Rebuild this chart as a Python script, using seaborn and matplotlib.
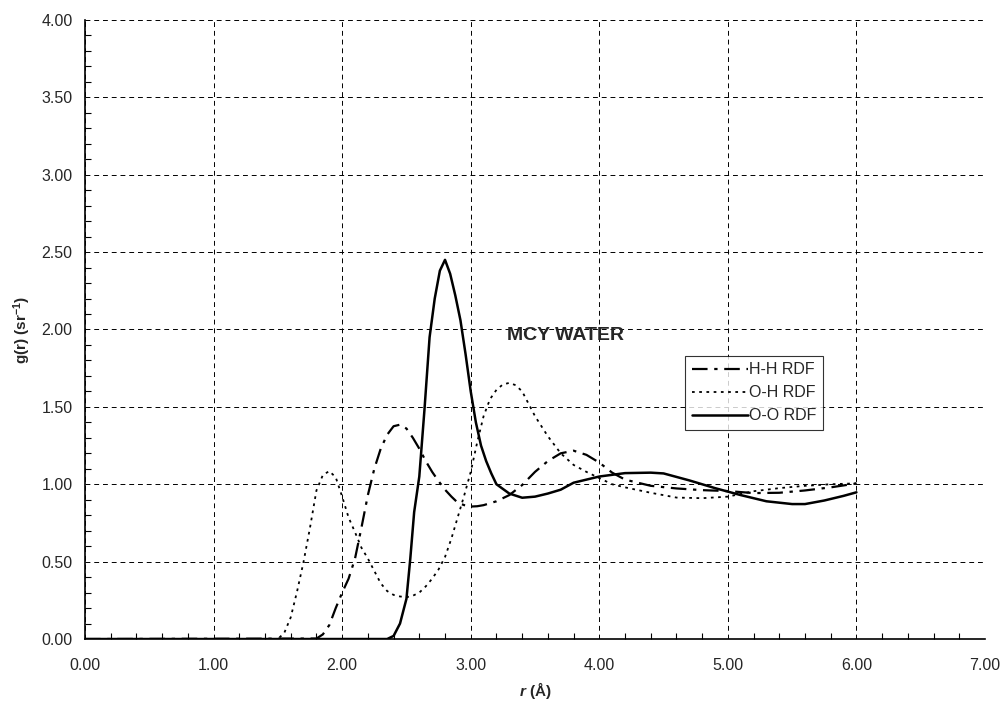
import matplotlib
matplotlib.use("Agg")
import matplotlib.pyplot as plt
from matplotlib.ticker import MultipleLocator, FormatStrFormatter
import seaborn as sns

# H-H radial distribution
r_hh = [0.00, 1.80, 1.85, 1.90, 1.95, 2.00, 2.05, 2.10, 2.15, 2.20, 2.25, 2.30, 2.35,
        2.40, 2.45, 2.50, 2.55, 2.60, 2.65, 2.70, 2.75, 2.80, 2.85, 2.90, 2.95, 3.00,
        3.05, 3.10, 3.20, 3.30, 3.40, 3.50, 3.60, 3.70, 3.80, 3.90, 4.00, 4.10, 4.20,
        4.40, 4.60, 4.80, 5.00, 5.20, 5.40, 5.60, 5.80, 6.00]
g_hh = [0.00, 0.003, 0.03, 0.09, 0.20, 0.30, 0.39, 0.52, 0.72, 0.93, 1.10, 1.23, 1.32,
        1.375, 1.385, 1.36, 1.30, 1.23, 1.15, 1.08, 1.02, 0.965, 0.92, 0.88, 0.865, 0.856,
        0.858, 0.865, 0.89, 0.93, 0.995, 1.08, 1.15, 1.20, 1.217, 1.19, 1.14, 1.075, 1.03,
        0.99, 0.973, 0.962, 0.956, 0.943, 0.945, 0.96, 0.98, 1.005]

# O-H radial distribution
r_oh = [0.00, 1.50, 1.55, 1.60, 1.65, 1.70, 1.75, 1.80, 1.85, 1.90, 1.95, 2.00, 2.05,
        2.10, 2.15, 2.20, 2.25, 2.30, 2.35, 2.40, 2.45, 2.50, 2.55, 2.60, 2.65, 2.70,
        2.75, 2.80, 2.85, 2.90, 2.95, 3.00, 3.05, 3.10, 3.15, 3.20, 3.25, 3.30, 3.35,
        3.40, 3.45, 3.50, 3.60, 3.70, 3.80, 3.90, 4.00, 4.10, 4.20, 4.40, 4.60, 4.80,
        5.00, 5.20, 5.40, 5.60, 5.80, 6.00]
g_oh = [0.00, 0.00, 0.04, 0.14, 0.31, 0.50, 0.72, 0.96, 1.06, 1.085, 1.045, 0.92, 0.785,
        0.69, 0.59, 0.52, 0.44, 0.36, 0.31, 0.285, 0.275, 0.27, 0.28, 0.30, 0.34, 0.39,
        0.45, 0.53, 0.65, 0.79, 0.93, 1.08, 1.27, 1.44, 1.55, 1.61, 1.645, 1.655, 1.64,
        1.60, 1.52, 1.44, 1.31, 1.20, 1.125, 1.08, 1.04, 1.00, 0.98, 0.945, 0.914, 0.91,
        0.92, 0.955, 0.975, 0.99, 1.00, 1.006]

# O-O radial distribution
r_oo = [0.00, 2.35, 2.40, 2.45, 2.50, 2.53, 2.56, 2.60, 2.64, 2.68, 2.72, 2.76, 2.80,
        2.84, 2.88, 2.92, 2.96, 3.00, 3.04, 3.08, 3.12, 3.16, 3.20, 3.30, 3.40, 3.50,
        3.60, 3.70, 3.80, 3.90, 4.00, 4.20, 4.40, 4.50, 4.70, 4.90, 5.10, 5.30, 5.50,
        5.60, 5.75, 5.90, 6.00]
g_oo = [0.00, 0.00, 0.02, 0.10, 0.26, 0.52, 0.82, 1.05, 1.48, 1.95, 2.20, 2.38, 2.45,
        2.36, 2.22, 2.06, 1.84, 1.60, 1.40, 1.25, 1.15, 1.07, 1.00, 0.94, 0.913, 0.92,
        0.94, 0.965, 1.01, 1.03, 1.05, 1.072, 1.075, 1.07, 1.025, 0.975, 0.93, 0.89, 0.872,
        0.872, 0.895, 0.925, 0.948]

sns.set_style("white")
plt.rcParams["font.family"] = ["Liberation Sans", "DejaVu Sans"]
plt.rcParams["mathtext.fontset"] = "custom"
plt.rcParams["mathtext.rm"] = "Liberation Sans:bold"
plt.rcParams["mathtext.it"] = "Liberation Sans:italic:bold"
plt.rcParams["mathtext.bf"] = "Liberation Sans:bold"

fig = plt.figure(figsize=(10.05, 7.03), dpi=100)
ax = fig.add_axes([0.0846, 0.091, 0.8955, 0.8806])

sns.lineplot(x=r_hh, y=g_hh, ax=ax, color="black", lw=1.6,
             linestyle=(0, (7, 3, 1.5, 3)), label="H-H RDF")
sns.lineplot(x=r_oh, y=g_oh, ax=ax, color="black", lw=1.3,
             linestyle=(0, (1.5, 2.5)), label="O-H RDF")
sns.lineplot(x=r_oo, y=g_oo, ax=ax, color="black", lw=1.8,
             linestyle="-", label="O-O RDF")

ax.set_xlim(0, 7)
ax.set_ylim(0, 4)
ax.xaxis.set_major_locator(MultipleLocator(1))
ax.xaxis.set_minor_locator(MultipleLocator(0.2))
ax.yaxis.set_major_locator(MultipleLocator(0.5))
ax.yaxis.set_minor_locator(MultipleLocator(0.1))
ax.xaxis.set_major_formatter(FormatStrFormatter("%.2f"))
ax.yaxis.set_major_formatter(FormatStrFormatter("%.2f"))

ax.tick_params(axis="x", which="major", direction="inout", length=8, width=1,
               labelsize=11.5, pad=10, color="black")
ax.tick_params(axis="y", which="major", direction="out", length=5, width=1,
               labelsize=11.5, pad=4, color="black")
ax.tick_params(which="minor", direction="in", length=4, width=0.8, color="black")
ax.tick_params(axis="x", which="minor", bottom=True)
ax.tick_params(axis="y", which="minor", left=True)

ax.grid(True, which="major", color="black", linestyle=(0, (5, 4)), lw=0.7)
ax.set_axisbelow(True)
for side in ["top", "right"]:
    ax.spines[side].set_visible(False)
for side in ["left", "bottom"]:
    ax.spines[side].set_color("black")
    ax.spines[side].set_linewidth(1.2)

ax.set_xlabel(r"$\mathit{r}$ (Å)", fontsize=11, fontweight="bold", labelpad=5)
ax.set_ylabel(r"g(r) (sr$^{-1}$)", fontsize=11, fontweight="bold", labelpad=6)

ax.text(3.28, 1.96, "MCY WATER", fontsize=14, fontweight="bold", va="center", ha="left")

leg = ax.legend(loc="upper left", bbox_to_anchor=(4.67, 1.83), bbox_transform=ax.transData,
                borderaxespad=0, fontsize=11.5, frameon=True, fancybox=False,
                edgecolor="black", handlelength=3.5, handletextpad=0.1,
                labelspacing=0.5, borderpad=0.4)
leg.get_frame().set_linewidth(0.8)

fig.savefig("out.png", dpi=100)
